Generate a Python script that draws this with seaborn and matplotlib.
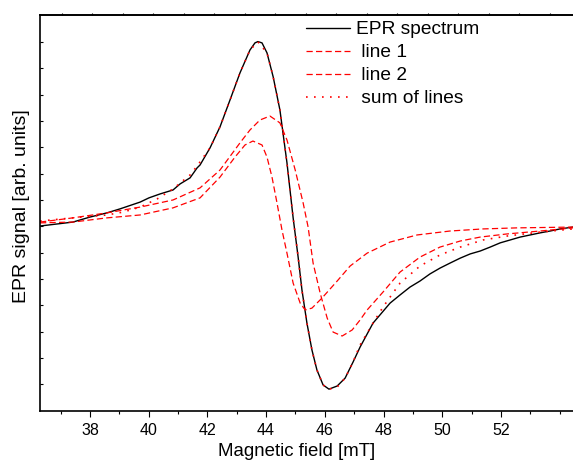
import matplotlib
matplotlib.use("Agg")
import matplotlib.pyplot as plt
import numpy as np
import pandas as pd
import seaborn as sns
from matplotlib.ticker import MultipleLocator, FixedLocator, NullFormatter

# ---- data (x in mT, y in arbitrary units) ----
epr_x = [36.30, 37.42, 38.00, 38.58, 39.02, 39.71, 40.01, 40.39, 40.83, 41.07,
         41.41, 41.65, 41.75, 42.09, 42.43, 42.77, 43.11, 43.45, 43.62, 43.72,
         43.86, 44.03, 44.24, 44.47, 44.71, 44.92, 45.09, 45.22, 45.39, 45.56,
         45.73, 45.94, 46.14, 46.42, 46.69, 46.96, 47.20, 47.64, 48.22, 48.56,
         48.90, 49.24, 49.58, 49.92, 50.26, 50.61, 50.95, 51.29, 51.63, 51.97,
         52.31, 52.65, 52.99, 53.33, 53.67, 54.01, 54.45]
epr_y = [0.01, 0.16, 0.35, 0.51, 0.66, 0.92, 1.08, 1.23, 1.38, 1.61,
         1.84, 2.22, 2.33, 2.98, 3.78, 4.80, 5.83, 6.70, 6.97, 7.02,
         6.97, 6.59, 5.68, 4.42, 2.41, 0.32, -1.17, -2.42, -3.68, -4.70,
         -5.46, -6.03, -6.19, -6.07, -5.77, -5.16, -4.59, -3.68, -2.92, -2.61,
         -2.31, -2.08, -1.81, -1.59, -1.40, -1.21, -1.05, -0.94, -0.79, -0.63,
         -0.52, -0.41, -0.33, -0.25, -0.18, -0.10, -0.03]

line1_x = [36.30, 37.42, 38.58, 39.71, 40.83, 41.75, 42.43, 42.94, 43.28, 43.55,
           43.86, 44.03, 44.20, 44.37, 44.54, 44.71, 44.92, 45.16, 45.33, 45.56,
           45.90, 46.42, 46.86, 47.44, 48.22, 49.14, 50.26, 51.39, 52.55, 54.45]
line1_y = [0.13, 0.16, 0.32, 0.43, 0.70, 1.08, 1.87, 2.63, 3.09, 3.24,
           3.09, 2.63, 1.87, 0.89, -0.14, -1.02, -2.16, -2.92, -3.18, -3.11,
           -2.73, -2.08, -1.51, -1.02, -0.60, -0.33, -0.18, -0.10, -0.06, -0.03]

line2_x = [36.30, 37.42, 38.58, 39.71, 40.83, 41.75, 42.43, 43.11, 43.45, 43.79,
           44.13, 44.47, 44.71, 44.99, 45.26, 45.43, 45.60, 45.84, 46.08, 46.28,
           46.59, 46.93, 47.20, 47.44, 47.98, 48.56, 49.24, 49.92, 50.61, 51.29,
           52.21, 53.33, 54.45]
line2_y = [0.16, 0.32, 0.51, 0.73, 1.00, 1.46, 2.14, 3.17, 3.66, 4.04,
           4.19, 3.93, 3.28, 2.14, 0.89, -0.03, -1.40, -2.54, -3.49, -4.02,
           -4.17, -3.94, -3.56, -3.18, -2.50, -1.74, -1.17, -0.79, -0.56, -0.41,
           -0.29, -0.18, -0.06]

sum_x = [36.30, 37.42, 38.58, 39.13, 39.71, 40.29, 40.83, 41.41, 41.65, 42.09,
         42.43, 42.77, 43.11, 43.45, 43.72, 44.03, 44.24, 44.47, 44.71, 44.92,
         45.09, 45.22, 45.39, 45.56, 45.73, 45.94, 46.14, 46.42, 46.69, 46.96,
         47.20, 47.64, 47.98, 48.56, 49.24, 49.92, 50.61, 51.39, 52.21, 53.33,
         54.45]
sum_y = [0.20, 0.32, 0.43, 0.54, 0.73, 1.04, 1.42, 1.95, 2.29, 2.98,
         3.78, 4.80, 5.83, 6.70, 7.01, 6.59, 5.68, 4.42, 2.41, 0.32,
         -1.17, -2.42, -3.68, -4.70, -5.46, -6.03, -6.19, -6.11, -5.77, -5.16,
         -4.51, -3.68, -3.07, -2.16, -1.51, -1.09, -0.79, -0.52, -0.37, -0.22,
         -0.10]

labels = ["EPR spectrum", " line 1", " line 2", " sum of lines"]
x_ticks = [38, 40, 42, 44, 46, 48, 50, 52]

# ---- styling ----
sns.set_style("ticks")
plt.rcParams["font.family"] = ["Liberation Sans", "DejaVu Sans"]
plt.rcParams["axes.linewidth"] = 1.2
plt.rcParams["text.color"] = "black"
plt.rcParams["axes.labelcolor"] = "black"
plt.rcParams["xtick.color"] = "black"
plt.rcParams["ytick.color"] = "black"
plt.rcParams["axes.edgecolor"] = "black"

fig = plt.figure(figsize=(5.73, 4.63), dpi=100)
ax = fig.add_axes([40 / 573, 1 - 411 / 463, 533 / 573, (411 - 15) / 463])

df_epr = pd.DataFrame({"x": epr_x, "y": epr_y})
df_l1 = pd.DataFrame({"x": line1_x, "y": line1_y})
df_l2 = pd.DataFrame({"x": line2_x, "y": line2_y})
df_sum = pd.DataFrame({"x": sum_x, "y": sum_y})

sns.lineplot(data=df_epr, x="x", y="y", ax=ax, color="black", lw=1.0,
             sort=False, estimator=None, label=labels[0])
sns.lineplot(data=df_l1, x="x", y="y", ax=ax, color="#ff0000", lw=0.9,
             linestyle=(0, (5, 2.6)), sort=False, estimator=None, label=labels[1])
sns.lineplot(data=df_l2, x="x", y="y", ax=ax, color="#ff0000", lw=0.9,
             linestyle=(0, (5, 2.6)), sort=False, estimator=None, label=labels[2])
sns.lineplot(data=df_sum, x="x", y="y", ax=ax, color="#ff0000", lw=1.2,
             linestyle=(0, (1, 3.8)), sort=False, estimator=None, label=labels[3])

ax.set_xlim(36.30, 54.45)
ax.set_ylim(-7.02, 8.03)

ax.xaxis.set_major_locator(FixedLocator(x_ticks))
ax.xaxis.set_minor_locator(MultipleLocator(1))
ax.yaxis.set_major_locator(FixedLocator(list(range(-6, 8))))
ax.yaxis.set_major_formatter(NullFormatter())
ax.tick_params(axis="x", which="major", direction="out", length=4.3, width=0.8,
               labelsize=11.5, pad=4.0, colors="black")
ax.tick_params(axis="x", which="minor", direction="out", length=2.5, width=0.8)
ax.tick_params(axis="y", which="major", direction="in", length=2.2, width=0.8,
               left=True, right=False, labelleft=False)

ax.spines["right"].set_visible(False)
for s in ["left", "bottom", "top"]:
    ax.spines[s].set_linewidth(1.2)
    ax.spines[s].set_color("black")

# tiny outward ticks along the top frame
ax2 = ax.twiny()
ax2.set_xlim(-0.711, 16.76)
ax2.xaxis.set_major_locator(MultipleLocator(1))
ax2.xaxis.set_major_formatter(NullFormatter())
ax2.tick_params(axis="x", direction="out", length=1.5, width=0.8)
for s in ["left", "bottom", "right"]:
    ax2.spines[s].set_visible(False)
ax2.spines["top"].set_linewidth(1.2)

ax.set_xlabel("Magnetic field [mT]", fontsize=13.4)
ax.set_ylabel("EPR signal [arb. units]", fontsize=14)
ax.xaxis.set_label_coords((296.5 - 40) / 533, (411 - 443) / 396)
ax.yaxis.set_label_coords((30 - 40) / 533, (411 - 206) / 396)

leg = ax.legend(loc="upper left", bbox_to_anchor=(306 / 573, 1 - 21 / 463),
                bbox_transform=fig.transFigure, frameon=False, fontsize=13.8,
                handlelength=2.3, handletextpad=0.3, labelspacing=0.29,
                borderpad=0, borderaxespad=0)
for t in leg.get_texts():
    t.set_color("black")

fig.savefig("out.png", dpi=100)
